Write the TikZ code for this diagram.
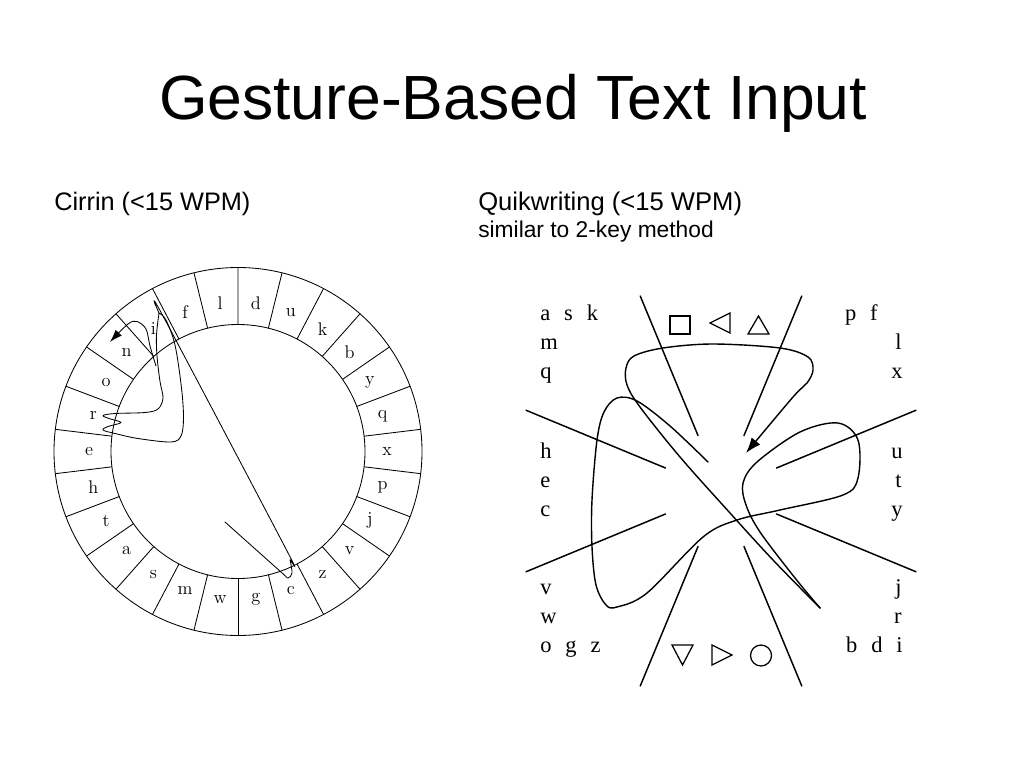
\documentclass[tikz,border=0pt]{standalone}
\usepackage{fontspec}
\newfontfamily\slidefont{Liberation Sans}
\newfontfamily\keyfont{Liberation Serif}
\usetikzlibrary{arrows.meta}
\tikzset{
  cirrin line/.style={line width=0.6pt},
  cirrin key/.style={inner sep=0pt, font=\fontsize{13}{13}\selectfont},
  zone line/.style={line width=1.05pt, line cap=round},
  quik key/.style={inner sep=0pt, font=\keyfont\fontsize{16}{16}\selectfont},
  quik mark/.style={line width=0.9pt},
  pen stroke/.style={line width=0.8pt, line join=round, line cap=round},
}
\newcommand{\keygap}{\hspace{0.62em}}

\begin{document}
\begin{tikzpicture}[x=0.025cm, y=-0.025cm]
    \useasboundingbox (0,0) rectangle (1024,768);
    % Slide title and captions
    \node[anchor=base, inner sep=0pt, font=\slidefont\fontsize{44.4}{44.4}\selectfont] (title) at (513,120) {Gesture-Based Text Input};
    \node[anchor=base west, inner sep=0pt, font=\slidefont\fontsize{18}{18}\selectfont] (cirrin) at (54,210) {Cirrin (<15 WPM)};
    \node[anchor=base west, inner sep=0pt, font=\slidefont\fontsize{18.2}{18.2}\selectfont] (quik) at (478,210) {Quikwriting (<15 WPM)};
    \node[anchor=base west, inner sep=0pt, font=\slidefont\fontsize{16.2}{16.2}\selectfont] (quiknote) at (478,237) {similar to 2-key method};
    % Cirrin ring of letters
    \coordinate (cc) at (238,451.5);
    \draw[cirrin line] (cc) circle[radius=184];
    \draw[cirrin line] (cc) circle[radius=127];
    \foreach \i in {0,...,25}
        \draw[cirrin line] ([shift={(90+13.846*\i:127)}]cc) -- ([shift={(90+13.846*\i:184)}]cc);
    \foreach \l [count=\i from 0] in {d,u,k,b,y,q,x,p,j,v,z,c,g,w,m,s,a,t,h,e,r,o,n,i,f,l}
        \node[cirrin key] (key-\l) at ([shift={(-83.077+13.846*\i:149)}]cc) {\l};
    % Cirrin pen stroke for the word
    \draw[pen stroke, line width=0.6pt] plot[smooth, tension=0.5] coordinates {(225,522) (281,572) (288,578) (292,573) (290,560) (286,549) (163,316) (159,313)};
    \draw[pen stroke, line width=0.6pt] plot[smooth, tension=0.55] coordinates {(159,313) (166,320) (175,345) (181.5,388) (183.5,418) (181,436) (171,442) (138,438.5) (115,433.5) (103,430) (108,426.5) (121,422.5) (109,418.5) (103,415.5) (115,413.5) (145,412.5) (158,409) (163,398) (160,381.5) (157,356) (156.5,335) (159,313)};
    \draw[pen stroke, line width=0.6pt, -{Latex[length=9pt,width=6pt]}] plot[smooth, tension=0.55] coordinates {(156,366) (150,346) (146,329) (137,321.5) (128,324) (110,342)};
    % Quikwriting zones
    \coordinate (qc) at (721,491);
    \foreach \a in {22.5,67.5,...,337.5}
        \draw[zone line] ([shift={(\a:60)}]qc) -- ([shift={(\a:211)}]qc);
    % Quikwriting letters, left side
    \node[quik key, anchor=base west] (ask) at (540,320) {a\keygap s\keygap k};
    \node[quik key, anchor=base west] (m) at (540,349) {m};
    \node[quik key, anchor=base west] (q) at (540,378) {q};
    \node[quik key, anchor=base west] (h) at (540,458) {h};
    \node[quik key, anchor=base west] (e) at (540,487) {e};
    \node[quik key, anchor=base west] (c) at (540,516) {c};
    \node[quik key, anchor=base west] (v) at (540,594) {v};
    \node[quik key, anchor=base west] (w) at (540,623) {w};
    \node[quik key, anchor=base west] (ogz) at (540,652) {o\keygap g\keygap z};
    % Quikwriting letters, right side
    \node[quik key, anchor=base east] (pf) at (878,320) {p\keygap f};
    \node[quik key, anchor=base east] (l) at (902,349) {l};
    \node[quik key, anchor=base east] (x) at (903,378) {x};
    \node[quik key, anchor=base east] (u) at (903,458) {u};
    \node[quik key, anchor=base east] (t) at (902,487) {t};
    \node[quik key, anchor=base east] (y) at (903,516) {y};
    \node[quik key, anchor=base east] (j) at (902,594) {j};
    \node[quik key, anchor=base east] (r) at (902,623) {r};
    \node[quik key, anchor=base east] (bdi) at (903,652) {b\keygap d\keygap i};
    % Quikwriting command marks
    \draw[quik mark] (670,316) rectangle (690,334);
    \draw[quik mark] (730,313) -- (730,333) -- (710,323) -- cycle;
    \draw[quik mark] (748,334) -- (769,334) -- (758.5,316) -- cycle;
    \draw[quik mark] (672,645) -- (693,645) -- (682.5,665) -- cycle;
    \draw[quik mark] (712,645) -- (712,665) -- (732,655) -- cycle;
    \draw[quik mark] (761,655.5) circle[radius=10.5];
    % Quikwriting pen stroke
    \draw[pen stroke, line width=1pt] plot[smooth, tension=0.55] coordinates {(708,462) (670,426) (637,401) (617,398) (604,412) (597,440) (592,500) (592,547) (596,585) (606,605) (617,607) (647,593) (703,537) (737,520) (780,510) (843,495) (858,478) (858,440) (838,423) (800,432) (757,462) (743,483) (746,505) (760,532) (795,578) (820,608)};
    \draw[pen stroke, line width=1pt, -{Latex[length=11pt,width=8pt]}] plot[smooth, tension=0.55] coordinates {(820,608) (773,560) (730,513) (680,457) (640,407) (627,385) (626,368) (634,356) (663,348) (713,344) (780,348) (808,357) (813,370) (807,383) (793,397) (746,453)};
\end{tikzpicture}
\end{document}
